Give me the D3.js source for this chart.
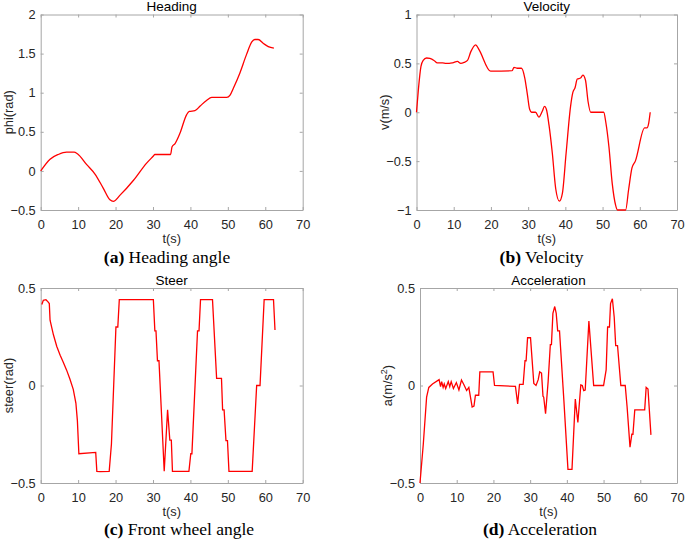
<!DOCTYPE html>
<html lang="en">
<head>
    <meta charset="UTF-8">
    <title>Heading, velocity, steer and acceleration</title>
    <script src="https://d3js.org/d3.v7.min.js"></script>
    <style>
        body {
            margin: 0;
            padding: 0;
            background-color: #fff;
        }

        .tick text {
            font-family: "Liberation Sans", Arial, sans-serif;
            font-size: 12.8px;
            fill: #262626;
        }

        .axis-label {
            font-family: "Liberation Sans", Arial, sans-serif;
            font-size: 12.8px;
            fill: #262626;
        }

        .plot-title {
            font-family: "Liberation Sans", Arial, sans-serif;
            font-size: 13.5px;
            fill: #000;
        }

        .caption {
            font-family: "Liberation Serif", "Times New Roman", serif;
            font-size: 17.5px;
            fill: #000;
        }

        .line-chart {
            fill: none;
            stroke: #ff0000;
            stroke-width: 1.3px;
        }
    </style>
</head>
<body>
<svg id="chart"></svg>

<script>
    // Heading angle (rad)
    const headingT = [0, 2.5, 4.7, 6.9, 8.9, 9.8, 12.3, 14.5, 16.7, 18.5, 19.4, 21.2, 24.8, 28.3, 30.1, 30.5,
        34.7, 35.1, 35.9, 37.2, 39, 39.7, 41.2, 42.6, 44.3, 45.7, 49.7, 50.6, 51.5, 53.2, 55, 56.4, 57.2, 58.1,
        59.5, 60.8, 62.3];
    const headingV = [0, 0.15, 0.21, 0.24, 0.24, 0.22, 0.08, -0.04, -0.22, -0.37, -0.39, -0.31, -0.12, 0.1,
        0.19, 0.21, 0.21, 0.31, 0.35, 0.48, 0.72, 0.76, 0.77, 0.83, 0.9, 0.94, 0.94, 0.97, 1.06, 1.25, 1.49,
        1.65, 1.68, 1.68, 1.63, 1.59, 1.57];

    // Velocity (m/s)
    const velocityT = [0, 0.5, 1.2, 1.8, 2.7, 3.6, 4.7, 5.6, 7, 7.9, 8.8, 9.7, 11, 11.9, 12.8, 13.7, 14.6, 15.9,
        16.8, 19.9, 20.3, 25.7, 26.2, 27.1, 28.2, 29.1, 29.8, 30.4, 30.9, 32, 32.9, 33.8, 34.4, 34.9, 35.6,
        36.5, 37.4, 38.4, 39.2, 40.2, 41.4, 42, 42.6, 43.2, 44.1, 44.7, 45.4, 46.1, 46.8, 50.3, 50.9, 51.7,
        52.6, 53.5, 54, 56.2, 57, 57.9, 58.8, 61.3, 61.9, 62.4, 62.8];
    const velocityV = [0, 0.23, 0.47, 0.53, 0.555, 0.55, 0.53, 0.505, 0.505, 0.5, 0.5, 0.505, 0.52, 0.5, 0.51,
        0.53, 0.62, 0.69, 0.64, 0.42, 0.42, 0.425, 0.46, 0.45, 0.45, 0.35, 0.18, 0.03, 0, 0, -0.05, 0.01, 0.06,
        0.03, -0.13, -0.42, -0.78, -0.91, -0.83, -0.42, 0.06, 0.2, 0.25, 0.34, 0.35, 0.38, 0.33, 0.11, 0, 0,
        -0.11, -0.35, -0.73, -0.95, -1, -1, -0.79, -0.57, -0.5, -0.16, -0.16, -0.11, 0];

    // Front wheel angle (rad)
    const steerT = [0.3, 0.7, 1.4, 1.9, 2.3, 2.5, 3.4, 4.3, 5.2, 6.0, 6.9, 7.8, 8.7, 9.4, 9.8, 10.2, 14.7, 15.0,
        15.9, 18.3, 18.9, 20.1, 20.6, 21, 30.1, 30.5, 30.8, 31.2, 31.6, 33, 33.9, 34.5, 34.9, 35.2, 39.6, 40.1,
        40.4, 41.9, 42.3, 42.7, 45.9, 47, 48.3, 48.6, 49, 49.5, 49.9, 50.3, 56.5, 57.7, 58.6, 59.7, 62.2, 62.6];
    const steerV = [0.415, 0.437, 0.44, 0.43, 0.42, 0.335, 0.26, 0.2, 0.155, 0.12, 0.08, 0.033, -0.02, -0.09,
        -0.18, -0.35, -0.343, -0.44, -0.442, -0.44, -0.3, 0.3, 0.3, 0.44, 0.44, 0.28, 0.28, 0.127, 0.127, -0.44,
        -0.125, -0.28, -0.28, -0.44, -0.44, -0.35, -0.35, 0.28, 0.28, 0.44, 0.44, 0.037, 0.037, -0.125, -0.125,
        -0.283, -0.283, -0.44, -0.44, 0, 0, 0.44, 0.44, 0.285];

    // Acceleration (m/s^2)
    const accelT = [0, 0.9, 1.8, 2.4, 3.4, 5.2, 5.6, 5.9, 6.3, 6.6, 7, 7.7, 8.1, 8.5, 9.1, 9.9, 10.6, 11.3, 12,
        12.7, 13.3, 14.2, 14.7, 15.1, 16, 16.3, 19.9, 20.3, 26, 26.6, 27.1, 28.1, 28.6, 28.9, 29.3, 30.1, 31,
        31.6, 32.2, 32.6, 33.1, 33.5, 33.7, 34.2, 34.9, 35.5, 35.8, 36.2, 36.7, 37.1, 37.5, 38, 39.2, 40.3,
        41.4, 42.3, 43, 43.8, 44.2, 44.6, 45, 46, 47.3, 50, 50.7, 51.1, 51.6, 51.9, 52.4, 52.9, 53.3, 53.8,
        54.7, 55.9, 56.4, 57.2, 57.7, 58, 58.5, 61.2, 61.6, 62.1, 62.9];
    const accelV = [-0.5, -0.3, -0.06, -0.01, 0.008, 0.03, -0.006, 0.02, -0.01, 0.008, -0.015, 0.02, -0.006,
        0.02, -0.015, 0.015, -0.023, 0.028, 0.003, -0.026, -0.01, -0.11, -0.105, -0.05, -0.05, 0.07, 0.07, 0,
        -0.005, -0.095, 0.006, 0.006, 0.127, 0.127, 0.245, 0.245, 0.01, 0, 0.03, 0.07, 0.063, -0.055, -0.06,
        -0.145, 0.02, 0.21, 0.21, 0.37, 0.405, 0.37, 0.28, 0.28, -0.08, -0.43, -0.43, -0.07, -0.19, 0.003, 0,
        -0.026, -0.023, 0.33, 0, 0, 0.08, 0.3, 0.3, 0.42, 0.445, 0.35, 0.205, 0.205, 0, 0, -0.108, -0.316,
        -0.25, -0.25, -0.125, -0.125, -0.01, -0.018, -0.253];

    // Axis ticks
    const xTicks = [0, 10, 20, 30, 40, 50, 60, 70];
    const headingTicks = [-0.5, 0, 0.5, 1, 1.5, 2];
    const velocityTicks = [-1, -0.5, 0, 0.5, 1];
    const halfTicks = [-0.5, 0, 0.5];

    const panels = [
        { t: headingT, v: headingV, ticks: headingTicks, yDomain: [-0.5, 2], curve: d3.curveMonotoneX,
          title: 'Heading', ylabel: 'phi(rad)', tag: '(a)', caption: ' Heading angle',
          box: [40.7, 302.7, 14.5, 210], capX: 167, capY: 263 },
        { t: velocityT, v: velocityV, ticks: velocityTicks, yDomain: [-1, 1], curve: d3.curveMonotoneX,
          title: 'Velocity', ylabel: 'v(m/s)', tag: '(b)', caption: ' Velocity',
          box: [416.5, 677, 14.5, 210], capX: 541.5, capY: 263 },
        { t: steerT, v: steerV, ticks: halfTicks, yDomain: [-0.5, 0.5], curve: d3.curveLinear,
          title: 'Steer', ylabel: 'steer(rad)', tag: '(c)', caption: ' Front wheel angle',
          box: [40.7, 302.7, 288, 483], capX: 179, capY: 535 },
        { t: accelT, v: accelV, ticks: halfTicks, yDomain: [-0.5, 0.5], curve: d3.curveLinear,
          title: 'Acceleration', ylabel: null, tag: '(d)', caption: ' Acceleration',
          box: [420, 677, 288, 483], capX: 540, capY: 535 }
    ];

    const svg = d3.select('#chart')
        .attr('width', 685)
        .attr('height', 541);

    const boxColor = '#a6a6a6';
    const tickLen = 3;

    panels.forEach(p => {
        const [x0, x1, y0, y1] = p.box;
        const x = d3.scaleLinear().domain([0, 70]).range([x0, x1]);
        const y = d3.scaleLinear().domain(p.yDomain).range([y1, y0]);
        const g = svg.append('g');

        // Axes: bottom/left with labels, top/right mirrored ticks only
        const bottom = g.append('g')
            .attr('transform', `translate(0,${y1})`)
            .call(d3.axisBottom(x).tickValues(xTicks).tickSizeInner(-tickLen).tickSizeOuter(0).tickPadding(6));
        const top = g.append('g')
            .attr('transform', `translate(0,${y0})`)
            .call(d3.axisTop(x).tickValues(xTicks).tickSizeInner(-tickLen).tickSizeOuter(0).tickFormat(''));
        const left = g.append('g')
            .attr('transform', `translate(${x0},0)`)
            .call(d3.axisLeft(y).tickValues(p.ticks).tickSizeInner(-tickLen).tickSizeOuter(0).tickPadding(5)
                .tickFormat(d => d3.format('')(d)));
        const right = g.append('g')
            .attr('transform', `translate(${x1},0)`)
            .call(d3.axisRight(y).tickValues(p.ticks).tickSizeInner(-tickLen).tickSizeOuter(0).tickFormat(''));

        [bottom, top, left, right].forEach(a => {
            a.selectAll('.domain').attr('stroke', boxColor);
            a.selectAll('.tick line').attr('stroke', boxColor);
        });
        bottom.selectAll('.tick text').attr('dy', '1em');

        // Data line
        const line = d3.line()
            .x((d, i) => x(p.t[i]))
            .y(d => y(d))
            .curve(p.curve);

        g.append('path')
            .datum(p.v)
            .attr('class', 'line-chart')
            .attr('d', line);

        // Title
        g.append('text')
            .attr('class', 'plot-title')
            .attr('x', (x0 + x1) / 2)
            .attr('y', y0 - 3.5)
            .attr('text-anchor', 'middle')
            .text(p.title);

        // x label
        g.append('text')
            .attr('class', 'axis-label')
            .attr('x', (x0 + x1) / 2)
            .attr('y', y1 + 33)
            .attr('text-anchor', 'middle')
            .text('t(s)');

        // y label
        const yl = g.append('text')
            .attr('class', 'axis-label')
            .attr('transform', `translate(${x0 - 28},${(y0 + y1) / 2}) rotate(-90)`)
            .attr('text-anchor', 'middle');
        if (p.ylabel) {
            yl.text(p.ylabel);
        } else {
            yl.append('tspan').text('a(m/s');
            yl.append('tspan').attr('baseline-shift', 'super').attr('font-size', '9px').text('2');
            yl.append('tspan').text(')');
        }

        // Caption
        const cap = g.append('text')
            .attr('class', 'caption')
            .attr('x', p.capX)
            .attr('y', p.capY)
            .attr('text-anchor', 'middle');
        cap.append('tspan').attr('font-weight', 'bold').text(p.tag);
        cap.append('tspan').text(p.caption);
    });
</script>
</body>
</html>
